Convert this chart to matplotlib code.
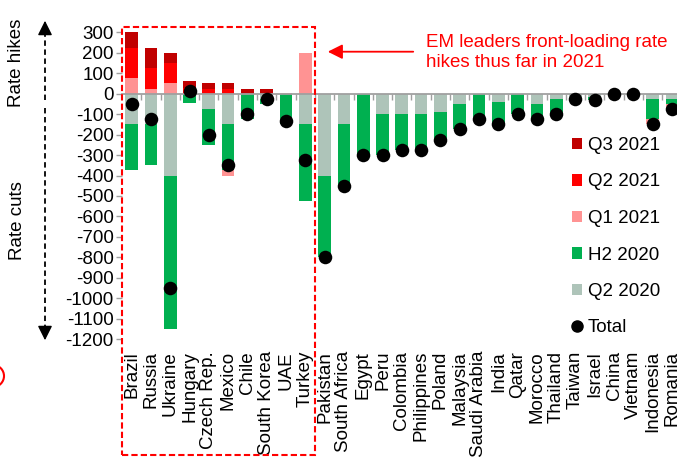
"""
EM policy rate changes since Q2 2020, stacked by period, with the net total
"""
import numpy as np
import matplotlib.pyplot as plt
from matplotlib.patches import Patch, Rectangle, Ellipse, FancyArrowPatch
from matplotlib.lines import Line2D
from matplotlib.transforms import blended_transform_factory

plt.rcParams['font.family'] = ['Liberation Sans', 'DejaVu Sans']
plt.rcParams['axes.unicode_minus'] = False

countries = ["Brazil", "Russia", "Ukraine", "Hungary", "Czech Rep.", "Mexico", "Chile",
             "South Korea", "UAE", "Turkey", "Pakistan", "South Africa", "Egypt", "Peru",
             "Colombia", "Philippines", "Poland", "Malaysia", "Saudi Arabia", "India",
             "Qatar", "Morocco", "Thailand", "Taiwan", "Israel", "China", "Vietnam",
             "Indonesia", "Romania"]

# changes in bp per period
q2_2020 = [-150, -150, -400, 0, -75, -150, 0, -25, 0, -150, -400, -150, 0, -100,
           -100, -100, -90, -50, 0, -40, 0, -50, -25, -25, -15, 0, 0, -25, -25]
h2_2020 = [-225, -200, -750, -45, -175, -225, -125, -25, -150, -375, -400, -300, -300, -200,
           -175, -175, -135, -125, -125, -110, -100, -75, -75, 0, -15, 0, 0, -100, -25]
q1_2021 = [75, 25, 50, 0, 0, -25, 0, 0, 5, 200, 0, 0, 0, 0,
           0, 0, 0, 0, 0, 0, 0, 0, 0, 0, 0, 0, 0, -25, -25]
q2_2021 = [150, 100, 100, 30, 25, 25, 0, 0, 0, 0, 0, 0, 0, 0,
           0, 0, 0, 0, 0, 0, 0, 0, 0, 0, 0, 0, 0, 0, 0]
q3_2021 = [75, 100, 50, 30, 25, 25, 25, 25, 0, 0, 0, 0, 0, 0,
           0, 0, 0, 0, 0, 0, 0, 0, 0, 0, 0, 0, 0, 0, 0]
total = [-50, -125, -950, 15, -200, -350, -100, -25, -135, -325, -800, -450, -300, -300,
         -275, -275, -225, -175, -125, -150, -100, -125, -100, -25, -30, 0, 0, -150, -75]

series = [("Q2 2020", q2_2020, "#AEC4B9"),
          ("H2 2020", h2_2020, "#00B050"),
          ("Q1 2021", q1_2021, "#FF9393"),
          ("Q2 2021", q2_2021, "#FF0000"),
          ("Q3 2021", q3_2021, "#C00000")]

FS = 13.5
W, H = 677, 459
fig = plt.figure(figsize=(W / 100, H / 100), dpi=100)
ax = fig.add_axes([122 / W, 1 - 349.5 / H, (681.6 - 122) / W, (349.5 - 22) / H])

x = np.arange(len(countries))
pos_base = np.zeros(len(countries))
neg_base = np.zeros(len(countries))
for name, vals, color in series:
    v = np.array(vals, dtype=float)
    bottom = np.where(v >= 0, pos_base, neg_base)
    ax.bar(x, v, bottom=bottom, width=0.66, color=color, linewidth=0, zorder=2)
    pos_base += np.clip(v, 0, None)
    neg_base += np.clip(v, None, 0)

ax.scatter(x, total, s=95, color='black', zorder=4, linewidths=0)

ax.set_xlim(-0.5, len(countries) - 0.5)
ax.set_ylim(-1250, 350)

# zero line with tick marks between the countries
for s in ['top', 'right', 'left']:
    ax.spines[s].set_visible(False)
ax.spines['bottom'].set_position(('data', 0))
ax.spines['bottom'].set_color('#A0A0A0')
ax.spines['bottom'].set_linewidth(1.3)
ax.spines['bottom'].set_zorder(3)
ax.set_xticks(x[:-1] + 0.5, labels=[])
ax.tick_params(axis='x', direction='out', length=4, color='#A0A0A0', width=1)

ax.set_yticks(np.arange(-1200, 301, 100))
ax.tick_params(axis='y', direction='out', length=4, color='#A0A0A0', width=1,
               labelsize=FS, pad=2)

# country names along the bottom
sec = ax.secondary_xaxis('bottom')
sec.set_xticks(x, labels=countries, rotation=90, fontsize=FS)
sec.tick_params(length=0, pad=1)
sec.spines['bottom'].set_visible(False)

# legend
handles = [Patch(facecolor=c, label=n) for n, _, c in series[::-1]]
handles.append(Line2D([], [], marker='o', color='black', linestyle='none',
                      markersize=8, label='Total'))
fig.legend(handles=handles, loc='upper left', bbox_to_anchor=(572 / W, 1 - 137 / H),
           frameon=False, fontsize=FS, handlelength=0.55, handleheight=0.55,
           handletextpad=0.3, labelspacing=1.04, borderaxespad=0, borderpad=0)

# dashed box around the hiking countries
trans = blended_transform_factory(ax.transData, fig.transFigure)
box = Rectangle((-0.5, 1 - 455 / H), 10, (455 - 26.5) / H, transform=trans,
                fill=False, edgecolor='#FF0000', linewidth=1.5, linestyle=(0, (3, 1.5)),
                clip_on=False, zorder=5)
fig.add_artist(box)

# callout
fig.text(426 / W, 1 - 52.5 / H, "EM leaders front-loading rate\nhikes thus far in 2021",
         color='#FF0000', fontsize=FS, ha='left', va='center', linespacing=1.22)
fig.add_artist(FancyArrowPatch((416 / W, 1 - 51.7 / H), (325 / W, 1 - 51.7 / H),
                               transform=fig.transFigure, arrowstyle='-|>',
                               mutation_scale=22, color='#FF0000', linewidth=1.3))

# side captions with dashed arrows
fig.text(17 / W, 1 - 63 / H, "Rate hikes", rotation=90, ha='center', va='center', fontsize=FS)
fig.text(17 / W, 1 - 221 / H, "Rate cuts", rotation=90, ha='center', va='center', fontsize=FS)
fig.add_artist(Line2D([45 / W, 45 / W], [1 - 100 / H, 1 - 30 / H], transform=fig.transFigure,
                      color='black', linewidth=1.3, linestyle=(0, (3, 2))))
fig.add_artist(FancyArrowPatch((45 / W, 1 - 32 / H), (45 / W, 1 - 18 / H),
                               transform=fig.transFigure, arrowstyle='-|>',
                               mutation_scale=22, color='black', linewidth=1))
fig.add_artist(Line2D([45 / W, 45 / W], [1 - 108 / H, 1 - 331 / H], transform=fig.transFigure,
                      color='black', linewidth=1.3, linestyle=(0, (3, 2))))
fig.add_artist(FancyArrowPatch((45 / W, 1 - 329 / H), (45 / W, 1 - 343 / H),
                               transform=fig.transFigure, arrowstyle='-|>',
                               mutation_scale=22, color='black', linewidth=1))

# stray circle edge from a neighbouring callout
fig.add_artist(Ellipse((-7 / W, 1 - 376 / H), 22 / W, 22 / H, transform=fig.transFigure,
                       fill=False, edgecolor='#FF0000', linewidth=1.5))

fig.savefig('out.png', dpi=100, facecolor='white')
